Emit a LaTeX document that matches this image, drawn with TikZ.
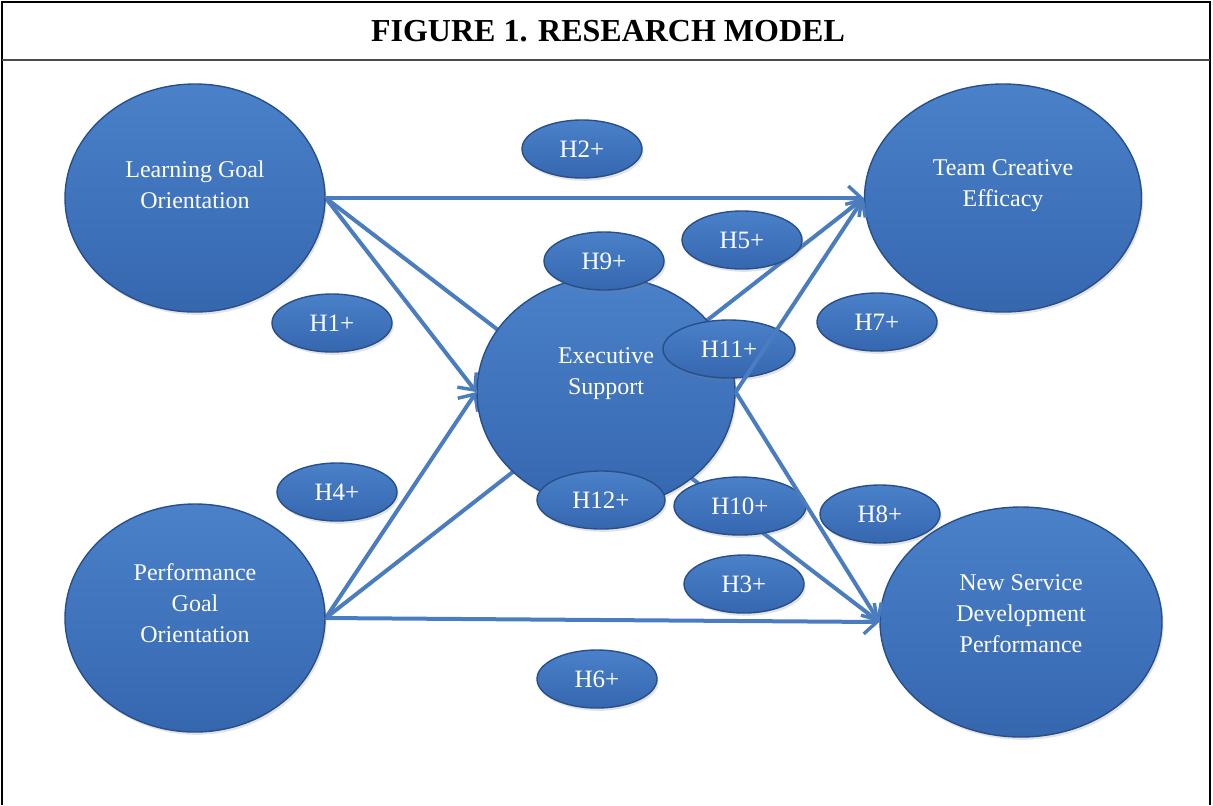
\documentclass[tikz,border=0pt]{standalone}
\usepackage{fontspec}
\setmainfont{Liberation Serif}
\usetikzlibrary{arrows.meta,shapes.geometric,shadows,backgrounds}
\definecolor{ovaltop}{HTML}{4A81C9}
\definecolor{ovalbot}{HTML}{3567AF}
\definecolor{ovalrim}{HTML}{284F8C}
\definecolor{linkblue}{HTML}{4A7DBF}

\begin{document}
\begin{tikzpicture}[x=0.5pt, y=-0.5pt,
  oval/.style={ellipse, inner sep=0pt, top color=ovaltop, bottom color=ovalbot,
    draw=ovalrim, line width=0.7pt,
    drop shadow={opacity=0.22, shadow xshift=0.8pt, shadow yshift=-1.4pt}},
  construct/.style 2 args={oval, minimum width=#1, minimum height=#2},
  ctext/.style={text=white, align=center, font=\fontsize{12}{15.5}\selectfont},
  hyp/.style={oval, minimum width=60pt, minimum height=29pt, text=white,
    font=\fontsize{12.5}{14}\selectfont},
  link/.style={draw=linkblue, line width=2pt,
    -{Straight Barb[length=6.5pt, width=12pt, line width=1.7pt]}}]
  \useasboundingbox (0,0) rectangle (1213,805);
  % ---------------------------------------------------------------- frame and title
  \draw[line width=1pt] (2,805) -- (2,2) -- (1210,2) -- (1210,805);
  \draw[line width=1pt, black!70] (2,60) -- (1210,60);
  \node[font=\bfseries\fontsize{16}{18}\selectfont] (title) at (608,31) {FIGURE 1. RESEARCH MODEL};
  % ---------------------------------------------------------------- constructs
  \node[construct={130pt}{114pt}] (lgo) at (195,198) {};
  \node[construct={138.5pt}{114pt}] (tce) at (1003,198) {};
  \node[construct={130pt}{114pt}] (pgo) at (195,618) {};
  \node[construct={141pt}{115pt}] (nsd) at (1021,622) {};
  \node[construct={129pt}{115pt}] (exs) at (606,392) {};
  \node[ctext] (lgo-txt) at (195,185) {Learning Goal\\ Orientation};
  \node[ctext] (tce-txt) at (1003,186) {Team Creative\\ Efficacy};
  \node[ctext] (pgo-txt) at (195,603) {Performance\\ Goal\\ Orientation};
  \node[ctext] (nsd-txt) at (1021,614) {New Service\\ Development\\ Performance};
  \node[ctext] (exs-txt) at (606,374) {Executive\\ Support};
  % ---------------------------------------------------------------- hypotheses
  \node[hyp] (h2) at (582,149) {H2+};
  \node[hyp] (h9) at (604,261) {H9+};
  \node[hyp] (h5) at (742,240) {H5+};
  \node[hyp] (h1) at (332,323) {H1+};
  \node[hyp, minimum width=66pt] (h11) at (729,349) {H11+};
  \node[hyp] (h7) at (877,322) {H7+};
  \node[hyp] (h4) at (337,492) {H4+};
  \node[hyp, minimum width=64pt] (h12) at (601,500) {H12+};
  \node[hyp, minimum width=66pt] (h10) at (740,506) {H10+};
  \node[hyp] (h8) at (880,514) {H8+};
  \node[hyp] (h3) at (744,584) {H3+};
  \node[hyp] (h6) at (597,679) {H6+};
  % ---------------------------------------------------------------- paths behind the ovals
  \begin{scope}[on background layer]
    \draw[link] (lgo.east) -- (tce.west);
    \draw[link] (lgo.east) -- (exs.west);
    \draw[link] (lgo.east) -- (nsd.west);
    \draw[link] (pgo.east) -- (exs.west);
    \draw[link] (pgo.east) -- (tce.west);
    \draw[link] (pgo.east) -- (nsd.west);
  \end{scope}
  % mediator paths run over H11+
  \draw[link] (exs.east) -- (tce.west);
  \draw[link] (exs.east) -- (nsd.west);
\end{tikzpicture}
\end{document}
